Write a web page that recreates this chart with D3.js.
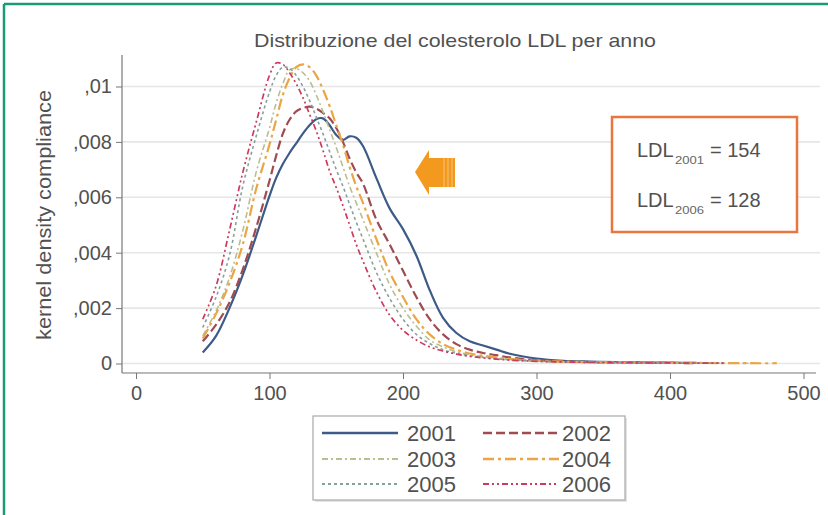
<!DOCTYPE html>
<html><head><meta charset="utf-8">
<script src="https://cdn.jsdelivr.net/npm/d3@7"></script>
<style>
body{margin:0;background:#fff}
svg{display:block}
text{font-family:"Liberation Sans",Arial,Helvetica,sans-serif}
</style>
</head><body>
<svg id="c" width="828" height="515"></svg>
<script>
// ---- data ----
const title = "Distribuzione del colesterolo LDL per anno";
const yTitle = "kernel density compliance";
const years = ["2001","2002","2003","2004","2005","2006"];
const ldl = [50,60,70,80,90,100,105,110,115,120,125,130,135,140,145,150,155,160,165,170,180,190,200,210,220,230,240,250,260,270,280,300,320,340,360,380,400,420,440,460,480];
const d2001 = [0.0004,0.0010,0.0020,0.0032,0.0046,0.00605,0.0067,0.0072,0.0076,0.00795,0.0083,0.0086,0.00882,0.00885,0.0086,0.00825,0.00807,0.0082,0.00815,0.00785,0.0067,0.0056,0.00485,0.0039,0.00265,0.00165,0.0011,0.0008,0.00065,0.0005,0.00035,0.00018,0.0001,0.00007,0.00005,0.00004,0.00003,0.00002,null,null,null];
const d2002 = [0.0008,0.0014,0.0022,0.0034,0.0049,0.0066,0.0075,0.0083,0.0088,0.0091,0.00922,0.00927,0.0092,0.00905,0.00885,0.0085,0.0080,0.0074,0.0069,0.0065,0.0052,0.0043,0.00335,0.0024,0.0016,0.00105,0.0007,0.0005,0.00038,0.0003,0.00022,0.00012,0.00008,0.00005,0.00004,0.00003,0.00002,0.000015,null,null,null];
const d2003 = [0.0010,0.0019,0.0031,0.0048,0.0069,0.0085,0.0094,0.0101,0.0106,0.01065,0.0105,0.0102,0.0097,0.0091,0.00845,0.0078,0.0071,0.0064,0.0058,0.0052,0.0040,0.00285,0.0020,0.00135,0.00085,0.0006,0.00042,0.00032,0.00025,0.0002,0.00015,0.00009,0.00006,0.00005,0.00004,0.00003,0.000025,0.00002,0.000015,0.00001,null];
const d2004 = [0.0009,0.0018,0.0029,0.0043,0.0063,0.0079,0.0088,0.0097,0.0103,0.0107,0.0108,0.0107,0.0104,0.0099,0.0093,0.0086,0.0079,0.0071,0.0064,0.0058,0.0045,0.0033,0.0024,0.0016,0.00105,0.0007,0.0005,0.00036,0.00028,0.00022,0.00017,0.0001,0.00007,0.00005,0.00004,0.00003,0.000025,0.00002,0.000015,0.00001,0.00001];
const d2005 = [0.0013,0.0024,0.0039,0.0064,0.0082,0.0098,0.0104,0.0107,0.01065,0.0104,0.0100,0.0095,0.0089,0.0083,0.00765,0.0070,0.0064,0.00575,0.0051,0.0045,0.0033,0.00235,0.0016,0.00105,0.00072,0.0005,0.00037,0.00028,0.00022,0.00017,0.00013,0.00008,0.00006,0.000045,0.000035,0.00003,0.00002,0.000015,0.00001,null,null];
const d2006 = [0.0016,0.0028,0.0048,0.0069,0.0087,0.0104,0.01085,0.0108,0.0105,0.0101,0.0096,0.0090,0.0084,0.0077,0.00695,0.00635,0.0057,0.0050,0.0043,0.0037,0.0026,0.00175,0.0012,0.00085,0.0006,0.00045,0.00034,0.00026,0.0002,0.00016,0.00012,0.00008,0.000055,0.00004,0.00003,0.000025,0.00002,0.000015,0.00001,null,null];
const series = [d2001,d2002,d2003,d2004,d2005,d2006];
const colors = ["#3d5b87","#9e4b52","#b9bf8e","#eba544","#86a09c","#cc3a5e"];
const dashes = [null,"9,4","6,3,2,3","11,4,3,4","3,3","6,3,2,3,2,3"];
const widths = [2.2,2.2,1.6,2.2,1.6,1.7];
const yTicks = [0,0.002,0.004,0.006,0.008,0.01];
const yTickLabels = ["0",",002",",004",",006",",008",",01"];
const xTicks = [0,100,200,300,400,500];
const xTickLabels = ["0","100","200","300","400","500"];
const annotLabels = ["LDL","LDL"];
const annotSubs = ["2001","2006"];
const annotValues = ["= 154","= 128"];

// ---- drawing ----
const textCol = "#515151";
const svg = d3.select("#c");
svg.append("rect").attr("width",828).attr("height",515).attr("fill","#fff");

// outer green frame (top + left)
svg.append("line").attr("x1",4).attr("x2",828).attr("y1",4).attr("y2",4).attr("stroke","#1b9a7a").attr("stroke-width",2.5);
svg.append("line").attr("x1",4).attr("x2",4).attr("y1",4).attr("y2",515).attr("stroke","#1b9a7a").attr("stroke-width",2.5);

const x = d3.scaleLinear().domain([0,500]).range([136,803.5]);
const y = d3.scaleLinear().domain([0,0.01]).range([363.5,86.5]);
const plotL = 122, plotR = 820, axisY = 373;

// title
svg.append("text").attr("x",455).attr("y",47).attr("text-anchor","middle")
  .attr("font-size",19).attr("fill",textCol).attr("textLength",402).attr("lengthAdjust","spacingAndGlyphs").text(title);

// gridlines
svg.append("g").selectAll("line").data(yTicks).join("line")
  .attr("x1",plotL).attr("x2",plotR).attr("y1",d=>y(d)).attr("y2",d=>y(d))
  .attr("stroke","#e6e6e6").attr("stroke-width",1.6);

// axes
const gy = svg.append("g").attr("transform",`translate(${plotL},0)`)
  .call(d3.axisLeft(y).tickValues(yTicks).tickFormat((d,i)=>yTickLabels[i]).tickSize(6).tickPadding(4));
gy.select(".domain").remove();
gy.selectAll("line").attr("stroke","#777");
gy.selectAll("text").attr("font-size",20).attr("fill",textCol).attr("font-family","Liberation Sans, Arial, sans-serif");
svg.append("line").attr("x1",plotL).attr("x2",plotL).attr("y1",55).attr("y2",axisY).attr("stroke","#777").attr("stroke-width",1.2);

const gx = svg.append("g").attr("transform",`translate(0,${axisY})`)
  .call(d3.axisBottom(x).tickValues(xTicks).tickFormat((d,i)=>xTickLabels[i]).tickSize(6).tickPadding(7));
gx.select(".domain").remove();
gx.selectAll("line").attr("stroke","#777");
gx.selectAll("text").attr("font-size",20).attr("fill",textCol).attr("font-family","Liberation Sans, Arial, sans-serif");
svg.append("line").attr("x1",plotL).attr("x2",816).attr("y1",axisY).attr("y2",axisY).attr("stroke","#777").attr("stroke-width",1.2);

// y title
svg.append("text").attr("transform","translate(51,215) rotate(-90)").attr("text-anchor","middle")
  .attr("font-size",20).attr("fill",textCol).attr("textLength",250).attr("lengthAdjust","spacingAndGlyphs").text(yTitle);

// curves
const line = d3.line().defined(d=>d[1]!=null).x(d=>x(d[0])).y(d=>y(d[1])).curve(d3.curveCatmullRom);
series.forEach((s,i)=>{
  const pts = ldl.map((v,j)=>[v,s[j]]);
  svg.append("path").datum(pts).attr("d",line).attr("fill","none")
    .attr("stroke",colors[i]).attr("stroke-width",widths[i])
    .attr("stroke-dasharray",dashes[i]).attr("stroke-linejoin","round");
});

// arrow
const ag = svg.append("g");
ag.append("path").attr("d","M415,172 L429,150 L429,158 L455,158 L455,187 L429,187 L429,195 Z").attr("fill","#f39a1e");
[444,448,452].forEach(px=>ag.append("line").attr("x1",px).attr("x2",px).attr("y1",158).attr("y2",187).attr("stroke","#f8c27a").attr("stroke-width",1));

// annotation box
svg.append("rect").attr("x",612).attr("y",117).attr("width",185).attr("height",115)
  .attr("fill","#fff").attr("stroke","#e8763e").attr("stroke-width",2.5);
annotLabels.forEach((lab,i)=>{
  const by = 157 + i*50;
  svg.append("text").attr("x",637).attr("y",by).attr("font-size",20).attr("fill",textCol).text(lab);
  svg.append("text").attr("x",675).attr("y",by+7).attr("font-size",11).attr("fill","#666").attr("textLength",29).attr("lengthAdjust","spacingAndGlyphs").text(annotSubs[i]);
  svg.append("text").attr("x",710).attr("y",by).attr("font-size",20).attr("fill",textCol).text(annotValues[i]);
});

// legend
svg.append("rect").attr("x",315).attr("y",418).attr("width",312).attr("height",84).attr("fill","#e4e4e4");
svg.append("rect").attr("x",313).attr("y",416).attr("width",312).attr("height",84)
  .attr("fill","#fff").attr("stroke","#a8a8a8").attr("stroke-width",1.2);
const colX = [322,483], rowY = [433,459,484];
years.forEach((yr,i)=>{
  const c = i%2, r = Math.floor(i/2);
  svg.append("line").attr("x1",colX[c]).attr("x2",colX[c]+76).attr("y1",rowY[r]).attr("y2",rowY[r])
    .attr("stroke",colors[i]).attr("stroke-width",widths[i]+0.4).attr("stroke-dasharray",dashes[i]);
  svg.append("text").attr("x",colX[c]+(c===0?85:79)).attr("y",rowY[r]+8).attr("font-size",22).attr("fill",textCol).text(yr);
});
</script>
</body></html>
